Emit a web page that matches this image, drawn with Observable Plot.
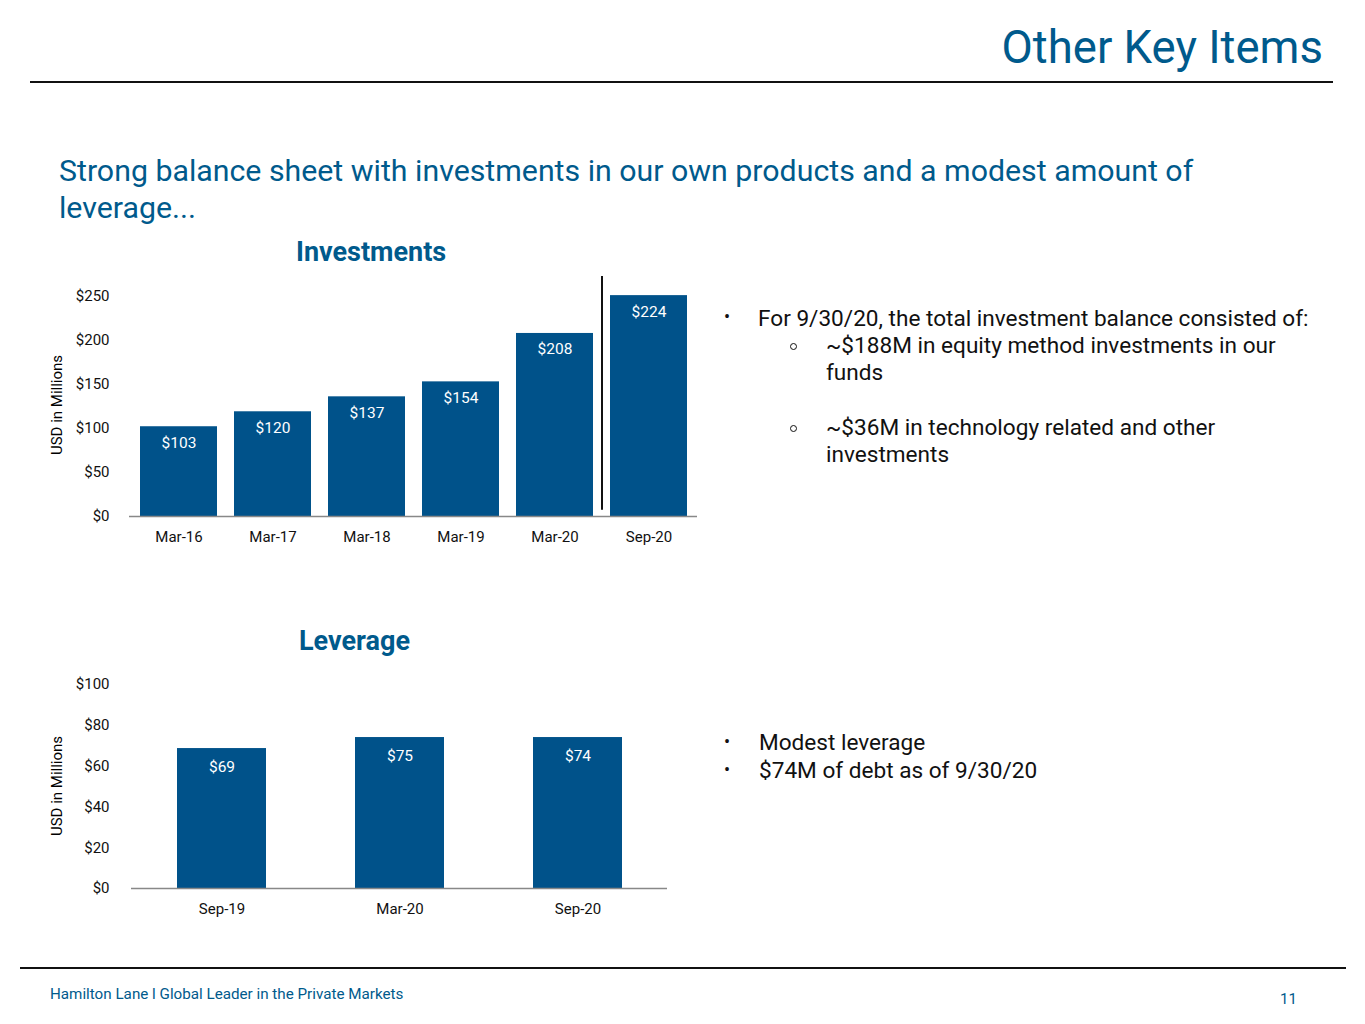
<!DOCTYPE html>
<html><head><meta charset="utf-8">
<script src="https://cdn.jsdelivr.net/npm/d3@7"></script>
<script src="https://cdn.jsdelivr.net/npm/@observablehq/plot@0.6"></script>
<style>
body{margin:0;width:1365px;height:1024px;position:relative;font-family:Roboto,sans-serif;background:#fff;overflow:hidden}
.a{position:absolute}
.blue{color:#005a8c}
.txt{font-size:22.6px;color:#111}
.circ{position:absolute;width:5px;height:5px;border:1.3px solid #111;border-radius:50%}
</style></head><body>
<div class="a blue" style="right:42px;top:21px;font-size:45.5px">Other Key Items</div>
<div class="a" style="left:30px;top:81px;width:1303px;height:2px;background:#111"></div>
<div class="a blue" style="left:59px;top:152px;font-size:30.3px;line-height:37px;width:1200px">Strong balance sheet with investments in our own products and a modest amount of leverage...</div>
<div class="a blue" style="left:296px;top:236px;font-size:27px;font-weight:bold">Investments</div>
<div class="a blue" style="left:299px;top:625px;font-size:27px;font-weight:bold">Leverage</div>
<div class="a" style="left:57px;top:405px;transform:translate(-50%,-50%) rotate(-90deg);font-size:15px;white-space:nowrap">USD in Millions</div>
<div class="a" style="left:57px;top:786px;transform:translate(-50%,-50%) rotate(-90deg);font-size:15px;white-space:nowrap">USD in Millions</div>
<div id="c1" class="a" style="left:0;top:276px"></div>
<div id="c2" class="a" style="left:0;top:664px"></div>
<div class="a txt" style="left:724px;top:306px;font-size:18px">•</div>
<div class="a txt" style="left:758px;top:305px">For 9/30/20, the total investment balance consisted of:</div>
<div class="circ" style="left:790px;top:343px"></div>
<div class="a txt" style="left:826px;top:332px;line-height:27px;width:470px">~$188M in equity method investments in our funds</div>
<div class="circ" style="left:790px;top:425px"></div>
<div class="a txt" style="left:826px;top:414px;line-height:27px;width:470px">~$36M in technology related and other investments</div>
<div class="a txt" style="left:724px;top:731px;font-size:18px">•</div>
<div class="a txt" style="left:759px;top:729px">Modest leverage</div>
<div class="a txt" style="left:724px;top:759px;font-size:18px">•</div>
<div class="a txt" style="left:759px;top:757px">$74M of debt as of 9/30/20</div>
<div class="a" style="left:20px;top:967px;width:1326px;height:2px;background:#111"></div>
<div class="a blue" style="left:50px;top:985px;font-size:15.2px">Hamilton Lane l Global Leader in the Private Markets</div>
<div class="a blue" style="left:1280px;top:990px;font-size:15px">11</div>
<script>
const invCats=["Mar-16","Mar-17","Mar-18","Mar-19","Mar-20","Sep-20"];
const invBars=[102,119,136,153,208,251];
const invLabels=["$103","$120","$137","$154","$208","$224"];
const invTicks=[0,50,100,150,200,250];
const levCats=["Sep-19","Mar-20","Sep-20"];
const levBars=[68.6,74,74];
const levLabels=["$69","$75","$74"];
const levTicks=[0,20,40,60,80,100];
const blue="#00528a";
const inv=invCats.map((c,i)=>({c,v:invBars[i],l:invLabels[i]}));
const lev=levCats.map((c,i)=>({c,v:levBars[i],l:levLabels[i]}));
const st={fontFamily:"Roboto",fontSize:"15px",color:"#111",background:"transparent"};
const p1=Plot.plot({width:699,height:280,marginLeft:129,marginRight:2,marginTop:20,marginBottom:40,
  style:st,
  x:{domain:invCats,paddingInner:0.186,paddingOuter:0.093,label:null,tickSize:0,tickPadding:15},
  y:{domain:[0,250],ticks:invTicks,tickFormat:d=>"$"+d,label:null,tickSize:0,tickPadding:20},
  marks:[
    Plot.barY(inv,{x:"c",y:"v",fill:blue}),
    Plot.text(inv,{x:"c",y:"v",text:"l",fill:"white",fontSize:15.5,dy:16}),
    Plot.ruleX(["Sep-20"],{x:d=>d,y1:7,y2:274,dx:-47,stroke:"#111",strokeWidth:2}),
    Plot.ruleY([0],{stroke:"#888",strokeWidth:1.5})
  ]});
document.getElementById("c1").append(p1);
const p2=Plot.plot({width:669,height:264,marginLeft:131,marginRight:2,marginTop:20,marginBottom:40,
  style:st,
  x:{domain:levCats,paddingInner:0.5,paddingOuter:0.25,label:null,tickSize:0,tickPadding:15},
  y:{domain:[0,100],ticks:levTicks,tickFormat:d=>"$"+d,label:null,tickSize:0,tickPadding:22},
  marks:[
    Plot.barY(lev,{x:"c",y:"v",fill:blue}),
    Plot.text(lev,{x:"c",y:"v",text:"l",fill:"white",fontSize:15.5,dy:18}),
    Plot.ruleY([0],{stroke:"#888",strokeWidth:1.5})
  ]});
document.getElementById("c2").append(p2);
</script>
</body></html>
